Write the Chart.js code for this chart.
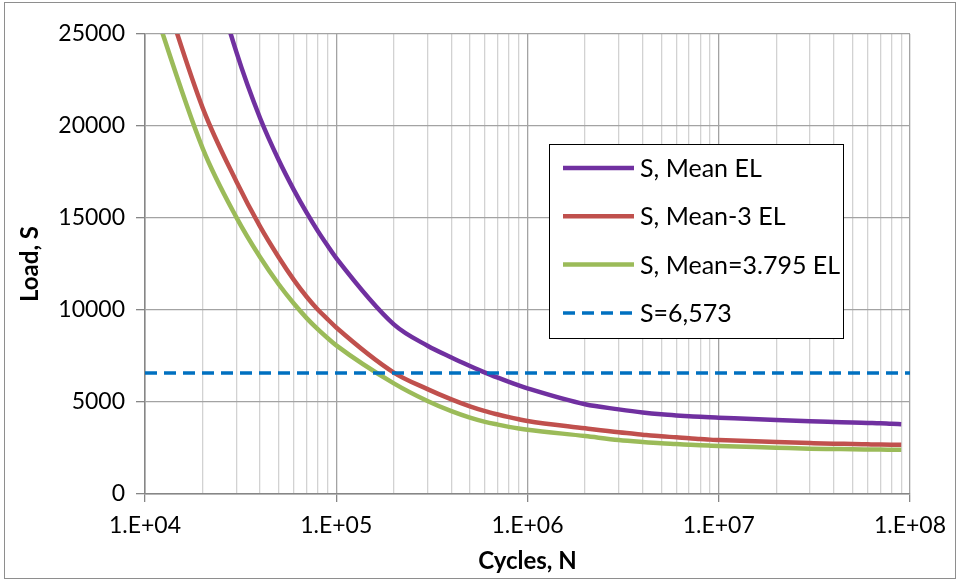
<!DOCTYPE html>
<html>
<head>
<meta charset="utf-8">
<script src="https://cdn.jsdelivr.net/npm/chart.js@4.4.1/dist/chart.umd.min.js"></script>
<style>
  html, body { margin: 0; padding: 0; background: #fff; }
  #wrap { position: relative; width: 962px; height: 582px; }
  #frame { position: absolute; left: 4px; top: 2px; width: 952px; height: 577px; border: 1px solid #8e8e8e; box-sizing: border-box; pointer-events: none; }
  canvas { position: absolute; left: 0; top: 0; }
</style>
</head>
<body>
<div id="wrap">
  <canvas id="chart" width="962" height="582"></canvas>
  <div id="frame"></div>
</div>
<script>
// cycles N where the load curves were read
const cycles = [
  1e4, 2e4, 3e4, 4e4, 5e4, 6e4, 7e4, 8e4, 9e4,
  1e5, 2e5, 3e5, 4e5, 5e5, 6e5, 7e5, 8e5, 9e5,
  1e6, 2e6, 3e6, 4e6, 5e6, 6e6, 7e6, 8e6, 9e6,
  1e7, 2e7, 3e7, 4e7, 5e7, 6e7, 7e7, 8e7, 9e7
];
const sMean = [
  46000, 30500, 24040, 20420, 18150, 16530, 15290, 14300, 13500,
  12820, 9220, 8060, 7420, 6960, 6600, 6320, 6090, 5900,
  5740, 4875, 4600, 4430, 4330, 4270, 4230, 4195, 4170,
  4150, 4020, 3950, 3915, 3890, 3865, 3845, 3815, 3795
];
const sMeanMinus3 = [
  30500, 21000, 17000, 14530, 12870, 11640, 10720, 10030, 9510,
  9050, 6600, 5700, 5140, 4760, 4500, 4320, 4175, 4060,
  3965, 3570, 3350, 3225, 3135, 3080, 3025, 2990, 2955,
  2935, 2826, 2770, 2735, 2718, 2700, 2685, 2675, 2670
];
const sMean3795 = [
  27900, 18800, 15050, 12865, 11400, 10350, 9560, 8960, 8480,
  8080, 6015, 5055, 4500, 4150, 3920, 3770, 3650, 3560,
  3490, 3150, 2935, 2826, 2755, 2717, 2680, 2650, 2628,
  2610, 2520, 2465, 2445, 2430, 2420, 2412, 2410, 2405
];
const limitCycles = [1e4, 1e8];
const limitS = 6573;

const seriesLabels = ['S, Mean EL', 'S, Mean-3 EL', 'S, Mean=3.795 EL', 'S=6,573'];
const decades = [1e4, 1e5, 1e6, 1e7, 1e8];
const xTickLabels = ['1.E+04', '1.E+05', '1.E+06', '1.E+07', '1.E+08'];
const yTicks = [0, 5000, 10000, 15000, 20000, 25000];

const FONT = 'Lato';

function toPoints(ys) {
  return cycles.map((n, i) => ({ x: n, y: ys[i] }));
}

// log grid: 1..9 in every decade
const xGrid = [];
decades.forEach((d, i) => {
  for (let k = 1; k <= 9; k++) {
    if (i === decades.length - 1 && k > 1) break;
    xGrid.push(d * k);
  }
});

// legend drawn as a framed box inside the plot, like the original
const boxLegend = {
  id: 'boxLegend',
  afterDraw(chart) {
    const ctx = chart.ctx;
    const box = { left: 549, top: 144, width: 294, height: 194 };
    ctx.save();
    ctx.fillStyle = '#fff';
    ctx.fillRect(box.left, box.top, box.width, box.height);
    ctx.strokeStyle = '#000';
    ctx.lineWidth = 1;
    ctx.strokeRect(box.left + 0.5, box.top + 0.5, box.width, box.height);
    chart.data.datasets.forEach((ds, i) => {
      const y = box.top + 24 + i * 48.3;
      ctx.beginPath();
      ctx.setLineDash(ds.borderDash || []);
      ctx.strokeStyle = ds.borderColor;
      ctx.lineWidth = ds.borderWidth;
      ctx.moveTo(563, y);
      ctx.lineTo(634, y);
      ctx.stroke();
      ctx.setLineDash([]);
      ctx.fillStyle = '#000';
      ctx.font = '25px ' + FONT;
      ctx.textBaseline = 'middle';
      ctx.fillText(ds.label, 640, y + 1);
    });
    ctx.restore();
  }
};

const isDecade = (v) => decades.includes(v);

new Chart(document.getElementById('chart').getContext('2d'), {
  type: 'line',
  data: {
    datasets: [
      { label: seriesLabels[0], data: toPoints(sMean), borderColor: '#7030A0', borderWidth: 4.5,
        pointRadius: 0, cubicInterpolationMode: 'monotone', fill: false },
      { label: seriesLabels[1], data: toPoints(sMeanMinus3), borderColor: '#C0504D', borderWidth: 4.5,
        pointRadius: 0, cubicInterpolationMode: 'monotone', fill: false },
      { label: seriesLabels[2], data: toPoints(sMean3795), borderColor: '#9BBB59', borderWidth: 4.5,
        pointRadius: 0, cubicInterpolationMode: 'monotone', fill: false },
      { label: seriesLabels[3], data: limitCycles.map(n => ({ x: n, y: limitS })), borderColor: '#0070C0',
        borderWidth: 3.5, borderDash: [12, 7], pointRadius: 0, fill: false, order: -1 }
    ]
  },
  options: {
    responsive: false,
    animation: false,
    devicePixelRatio: 1,
    layout: { padding: { left: 12, top: 34, right: 52, bottom: 2 } },
    plugins: { legend: { display: false }, tooltip: { enabled: false } },
    scales: {
      x: {
        type: 'logarithmic',
        min: 1e4,
        max: 1e8,
        afterBuildTicks: (s) => { s.ticks = xGrid.map(v => ({ value: v, major: isDecade(v) })); },
        afterFit: (s) => { s.height = 86; },
        ticks: {
          autoSkip: false, maxRotation: 0, padding: 10, color: '#000',
          font: { family: FONT, size: 23 },
          callback: (v) => { const i = decades.indexOf(v); return i >= 0 ? xTickLabels[i] : ''; }
        },
        grid: {
          color: (c) => (c.tick && isDecade(c.tick.value)) ? '#a3a3a3' : '#d2d2d2',
          lineWidth: 1.3,
          tickLength: 8,
          tickColor: (c) => (c.tick && isDecade(c.tick.value)) ? '#868686' : 'rgba(0,0,0,0)'
        },
        border: { color: '#868686', width: 1.5 },
        title: { display: true, text: 'Cycles, N', color: '#000',
          font: { family: FONT, size: 24, weight: 'bold' }, padding: { top: 4, bottom: 4 } }
      },
      y: {
        min: 0,
        max: 25000,
        afterBuildTicks: (s) => { s.ticks = yTicks.map(v => ({ value: v })); },
        afterFit: (s) => { s.width = 133; },
        ticks: { padding: 11, color: '#000', font: { family: FONT, size: 23 }, callback: (v) => String(v) },
        grid: { color: '#a3a3a3', lineWidth: 1.3, tickLength: 9, tickColor: '#868686' },
        border: { color: '#868686', width: 1.5 },
        title: { display: true, text: 'Load, S', color: '#000',
          font: { family: FONT, size: 24, weight: 'bold' }, padding: { top: 4, bottom: 4 } }
      }
    }
  },
  plugins: [boxLegend]
});
</script>
</body>
</html>
